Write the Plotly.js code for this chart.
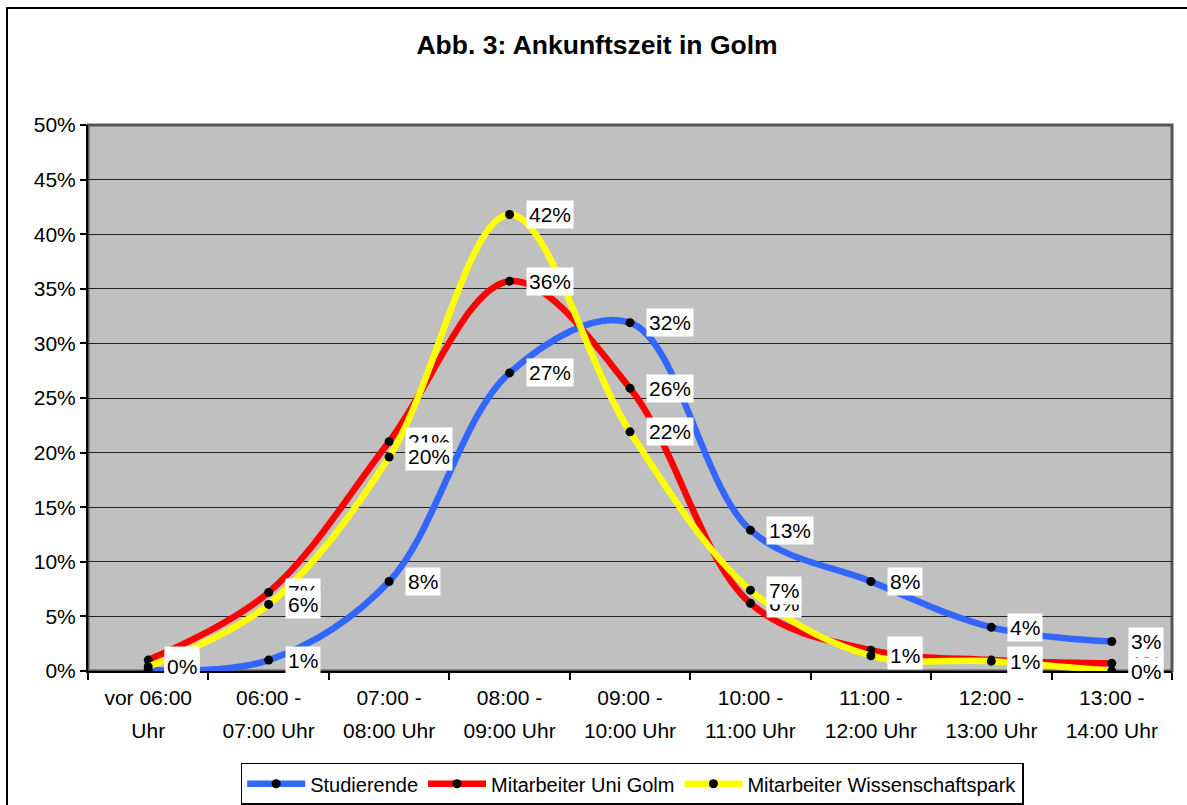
<!DOCTYPE html>
<html>
<head>
<meta charset="utf-8">
<script src="https://cdn.plot.ly/plotly-3.0.1.min.js"></script>
<style>
html, body { margin: 0; padding: 0; background: #fff; overflow: hidden; }
#chart { position: absolute; left: 0; top: 0; width: 1187px; height: 805px; }
#frame { position: absolute; left: 6px; top: 7px; width: 2000px; height: 2000px; border: 2px solid #000; pointer-events: none; }
</style>
</head>
<body>
<div id="chart"></div>
<div id="frame"></div>
<script>
const categories = ['vor 06:00 Uhr', '06:00 - 07:00 Uhr', '07:00 - 08:00 Uhr', '08:00 - 09:00 Uhr', '09:00 - 10:00 Uhr', '10:00 - 11:00 Uhr', '11:00 - 12:00 Uhr', '12:00 - 13:00 Uhr', '13:00 - 14:00 Uhr'];
const tickLine1 = ['vor 06:00', '06:00 -', '07:00 -', '08:00 -', '09:00 -', '10:00 -', '11:00 -', '12:00 -', '13:00 -'];
const tickLine2 = ['Uhr', '07:00 Uhr', '08:00 Uhr', '09:00 Uhr', '10:00 Uhr', '11:00 Uhr', '12:00 Uhr', '13:00 Uhr', '14:00 Uhr'];

const studierende = [0.1, 1.0, 8.2, 27.3, 31.9, 12.9, 8.2, 4.0, 2.7];
const uniGolm = [1.0, 7.2, 21.0, 35.7, 25.9, 6.2, 1.9, 1.0, 0.7];
const wissenschaftspark = [0.4, 6.1, 19.6, 41.8, 21.9, 7.4, 1.4, 0.9, 0.0];

const seriesNames = ['Studierende', 'Mitarbeiter Uni Golm', 'Mitarbeiter Wissenschaftspark'];
const seriesColors = ['#3366FF', '#FF0000', '#FFFF00'];
const seriesData = [studierende, uniGolm, wissenschaftspark];

const FONT = 'Liberation Sans, Arial, sans-serif';

const traces = seriesData.map((vals, k) => ({
  type: 'scatter',
  mode: 'lines+markers',
  name: seriesNames[k],
  x: categories,
  y: vals,
  line: { color: seriesColors[k], width: 6.5, shape: 'spline', smoothing: 1 },
  marker: { color: '#000', size: 9 },
  hoverinfo: 'skip'
}));

traces.push({
  type: 'scatter',
  mode: 'markers',
  x: categories,
  y: categories.map(() => null),
  xaxis: 'x2',
  showlegend: false,
  hoverinfo: 'skip',
  marker: { opacity: 0 }
});

const annotations = [];
seriesData.forEach((vals) => {
  vals.forEach((v, i) => {
    annotations.push({
      x: categories[i], y: v, xref: 'x', yref: 'y',
      text: Math.round(v) + '%',
      showarrow: false,
      xanchor: 'left', yanchor: 'middle',
      xshift: 16,
      bgcolor: '#FFFFFF',
      borderpad: 2,
      font: { family: FONT, size: 21, color: '#000' }
    });
  });
});

const layout = {
  width: 1187, height: 805,
  margin: { l: 88, r: 15, t: 125, b: 134, autoexpand: false },
  paper_bgcolor: 'rgba(0,0,0,0)',
  plot_bgcolor: '#C0C0C0',
  font: { family: FONT, size: 21, color: '#000' },
  title: {
    text: '<b>Abb. 3: Ankunftszeit in Golm</b>',
    font: { family: FONT, size: 26.5, color: '#000' },
    xref: 'container', x: 0.503, xanchor: 'center',
    yref: 'container', y: 0.944, yanchor: 'middle'
  },
  xaxis: {
    type: 'category',
    range: [-0.5, 8.5],
    tickvals: categories,
    ticktext: tickLine1,
    tickson: 'boundaries',
    ticks: 'outside', ticklen: 7, tickwidth: 2, tickcolor: '#000',
    ticklabelstandoff: 7,
    showline: true, linecolor: '#000', linewidth: 2,
    showgrid: false, zeroline: false,
    tickfont: { family: FONT, size: 21, color: '#000' },
    tickangle: 0,
    fixedrange: true
  },
  xaxis2: {
    type: 'category',
    overlaying: 'x',
    side: 'bottom',
    anchor: 'y',
    range: [-0.5, 8.5],
    tickvals: categories,
    ticktext: tickLine2,
    ticks: '',
    ticklabelstandoff: 45,
    showline: false, showgrid: false, zeroline: false,
    tickfont: { family: FONT, size: 21, color: '#000' },
    tickangle: 0,
    fixedrange: true
  },
  yaxis: {
    range: [0, 50],
    dtick: 5,
    ticksuffix: '%',
    ticks: 'outside', ticklen: 6, tickwidth: 2, tickcolor: '#000',
    showline: true, linecolor: '#000', linewidth: 2,
    showgrid: true, gridcolor: '#222', gridwidth: 1,
    zeroline: false,
    tickfont: { family: FONT, size: 21, color: '#000' },
    fixedrange: true
  },
  shapes: [{
    type: 'rect', xref: 'paper', yref: 'paper',
    x0: 0, x1: 1, y0: 0, y1: 1,
    line: { color: '#555', width: 3 },
    layer: 'below'
  }],
  legend: {
    orientation: 'h',
    x: 0.502, xanchor: 'center',
    y: -0.168, yanchor: 'top',
    bgcolor: '#FFFFFF',
    bordercolor: '#000', borderwidth: 1.5,
    font: { family: FONT, size: 20, color: '#000' },
    itemwidth: 58,
    tracegroupgap: 0,
    traceorder: 'normal'
  },
  annotations: annotations,
  showlegend: true
};

Plotly.newPlot('chart', traces, layout, { displayModeBar: false, staticPlot: true });
</script>
</body>
</html>
